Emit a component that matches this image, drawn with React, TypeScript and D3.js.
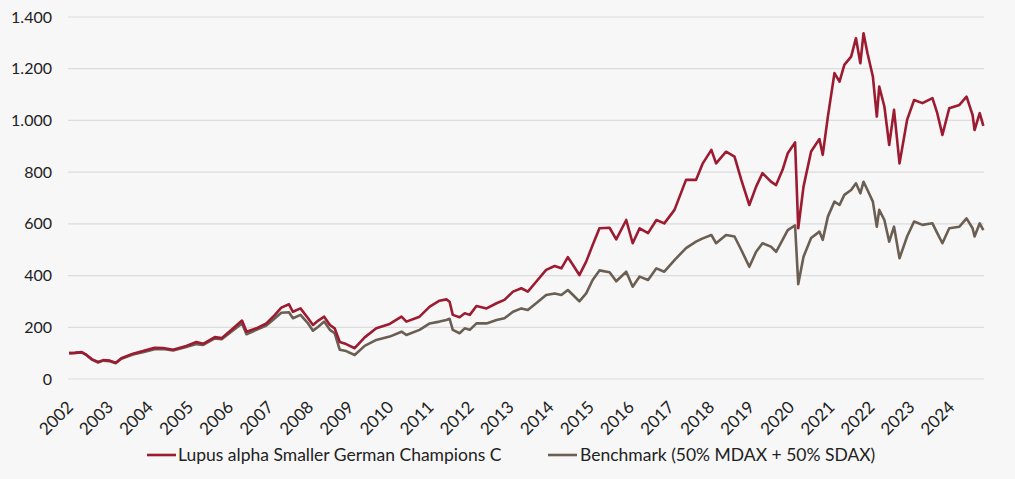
import React from "react";
import * as d3 from "d3";

// Indexed performance, start = 100
const dates = [
  "2002-01-02", "2002-02-24", "2002-04-27", "2002-06-10", "2002-07-27", "2002-09-23", "2002-11-09",
  "2003-01-08", "2003-03-03", "2003-04-23", "2003-08-07", "2003-11-06",
  "2004-02-21", "2004-05-08", "2004-08-07", "2004-12-05",
  "2005-03-07", "2005-05-08", "2005-08-22", "2005-10-23",
  "2006-01-08", "2006-04-27", "2006-06-07", "2006-09-05", "2006-12-05",
  "2007-02-21", "2007-04-20", "2007-06-29", "2007-08-04", "2007-10-12", "2007-12-20",
  "2008-02-03", "2008-03-22", "2008-05-15", "2008-07-06", "2008-08-18", "2008-10-04", "2008-12-01",
  "2009-02-17", "2009-05-19", "2009-09-02",
  "2010-01-02", "2010-04-20", "2010-06-03", "2010-10-01",
  "2011-01-02", "2011-04-01", "2011-06-03", "2011-07-02", "2011-07-31", "2011-10-01", "2011-11-17",
  "2012-01-02", "2012-03-03", "2012-06-03", "2012-09-02", "2012-11-13",
  "2013-01-30", "2013-04-16", "2013-06-14", "2013-08-29", "2013-11-28",
  "2014-02-14", "2014-04-16", "2014-06-14", "2014-07-31", "2014-09-27", "2014-11-28",
  "2015-01-26", "2015-03-29", "2015-06-29", "2015-08-29", "2015-11-28",
  "2016-01-26", "2016-03-29", "2016-06-14", "2016-08-29", "2016-11-09",
  "2017-02-10", "2017-05-26", "2017-08-25", "2017-10-26",
  "2018-01-12", "2018-02-24", "2018-05-26", "2018-08-11", "2018-10-12", "2018-12-24",
  "2019-02-24", "2019-04-23", "2019-07-09", "2019-08-25", "2019-10-23", "2019-12-09",
  "2020-02-14", "2020-03-14", "2020-05-01", "2020-07-09", "2020-09-23", "2020-10-23", "2020-12-09",
  "2021-02-07", "2021-03-25", "2021-05-08", "2021-07-09", "2021-08-22", "2021-10-01", "2021-10-30", "2021-12-05",
  "2022-01-23", "2022-02-28", "2022-03-22", "2022-05-08", "2022-06-21", "2022-08-04", "2022-09-23", "2022-12-01",
  "2023-02-03", "2023-04-20", "2023-07-20", "2023-09-02", "2023-10-19", "2023-12-20",
  "2024-03-22", "2024-05-26", "2024-07-20", "2024-08-07", "2024-09-23", "2024-10-26",
];

const fund = [
  100, 101, 104, 93, 77, 66, 73,
  71, 63, 80, 98, 108,
  121, 120, 113, 128,
  143, 136, 162, 158,
  186, 226, 183, 196, 215,
  248, 276, 289, 260, 273, 235,
  209, 226, 241, 209, 196, 143, 135,
  119, 161, 196,
  213, 241, 222, 241,
  280, 303, 308, 299, 248, 239, 254,
  248, 282, 273, 293, 306,
  338, 351, 338, 376, 422,
  437, 428, 471, 441, 402, 454,
  518, 583, 585, 540, 615,
  525, 583, 564, 615, 602,
  654, 770, 770, 834,
  886, 834, 879, 860, 770, 673,
  744, 796, 763, 750, 809, 873,
  915, 583, 744, 880, 928, 867, 1015,
  1183, 1150, 1215, 1247, 1318, 1221, 1337, 1260,
  1170, 1015, 1131, 1054, 905, 1041, 834, 1002,
  1079, 1067, 1086, 1028, 944, 1047,
  1060, 1092, 1021, 963, 1028, 979,
];

const benchmark = [
  100, 101, 103, 92, 75, 64, 71,
  69, 61, 78, 95, 104,
  115, 116, 110, 124,
  135, 132, 157, 154,
  179, 215, 173, 190, 207,
  235, 256, 258, 235, 248, 215,
  187, 202, 222, 190, 177, 113, 108,
  93, 128, 151,
  164, 183, 170, 190,
  215, 222, 228, 233, 190, 177, 196,
  190, 215, 215, 228, 235,
  260, 273, 267, 293, 325,
  331, 325, 344, 325, 300, 331,
  383, 420, 413, 378, 415,
  357, 396, 383, 428, 415,
  460, 506, 531, 544,
  557, 525, 557, 551, 499, 434,
  492, 525, 512, 492, 538, 576,
  594, 367, 473, 545, 570, 538, 628,
  686, 673, 712, 731, 757, 718, 763, 731,
  686, 589, 654, 615, 531, 589, 467, 551,
  609, 596, 602, 564, 525, 583,
  589, 621, 583, 551, 602, 576,
];

const yTicks = [0, 200, 400, 600, 800, 1000, 1200, 1400];
const years = d3.range(2002, 2025);

const seriesNames = [
  "Lupus alpha Smaller German Champions C",
  "Benchmark (50% MDAX + 50% SDAX)",
];
const colors = ["#9c1b31", "#6b5e52"];

const W = 1015;
const H = 479;
const FONT = "Lato, 'Open Sans', sans-serif";

const de = d3.formatLocale({
  decimal: ",",
  thousands: ".",
  grouping: [3],
  currency: ["", " €"],
});
const fmt = de.format(",.0f");

const App = () => {
  const parse = d3.timeParse("%Y-%m-%d");
  const t = dates.map((d) => parse(d) as Date);

  const x = d3
    .scaleTime()
    .domain([new Date(2002, 0, 1), new Date(2024, 10, 1)])
    .range([69, 984]);
  const y = d3.scaleLinear().domain([0, 1400]).range([379, 17]);

  const line = d3
    .line<number>()
    .x((_, i) => x(t[i]))
    .y((v) => y(v))
    .curve(d3.curveLinear);

  const series = [fund, benchmark];

  return (
    <svg
      width={W}
      height={H}
      style={{ position: "absolute", left: 0, top: 0 }}
      fontFamily={FONT}
    >
      <rect width={W} height={H} fill="#f7f7f7" />

      {/* grid + y labels */}
      {yTicks.map((v) => (
        <g key={v}>
          <line
            x1={68}
            x2={984}
            y1={y(v)}
            y2={y(v)}
            stroke="#dcdcdc"
            strokeWidth={1.2}
          />
          <text
            x={52}
            y={y(v)}
            dy="0.35em"
            textAnchor="end"
            fontSize={16}
            fill="#222"
          >
            {fmt(v)}
          </text>
        </g>
      ))}

      {/* x labels, rotated */}
      {years.map((yr) => {
        const px = x(new Date(yr, 0, 1)) + 1;
        const py = 404;
        return (
          <text
            key={yr}
            transform={`translate(${px},${py}) rotate(-45)`}
            textAnchor="end"
            dy="0.35em"
            fontSize={17}
            fill="#222"
          >
            {yr}
          </text>
        );
      })}

      {/* lines: benchmark below fund */}
      {[1, 0].map((k) => (
        <path
          key={k}
          d={line(series[k]) ?? ""}
          fill="none"
          stroke={colors[k]}
          strokeWidth={2.6}
          strokeLinejoin="round"
        />
      ))}

      {/* legend */}
      {[
        { lx: 147, tx: 178 },
        { lx: 548, tx: 580 },
      ].map((p, k) => (
        <g key={k}>
          <line
            x1={p.lx}
            x2={p.lx + 29}
            y1={455}
            y2={455}
            stroke={colors[k]}
            strokeWidth={2.6}
          />
          <text x={p.tx} y={461} fontSize={17.5} fill="#222">
            {seriesNames[k]}
          </text>
        </g>
      ))}
    </svg>
  );
};

export default App;
